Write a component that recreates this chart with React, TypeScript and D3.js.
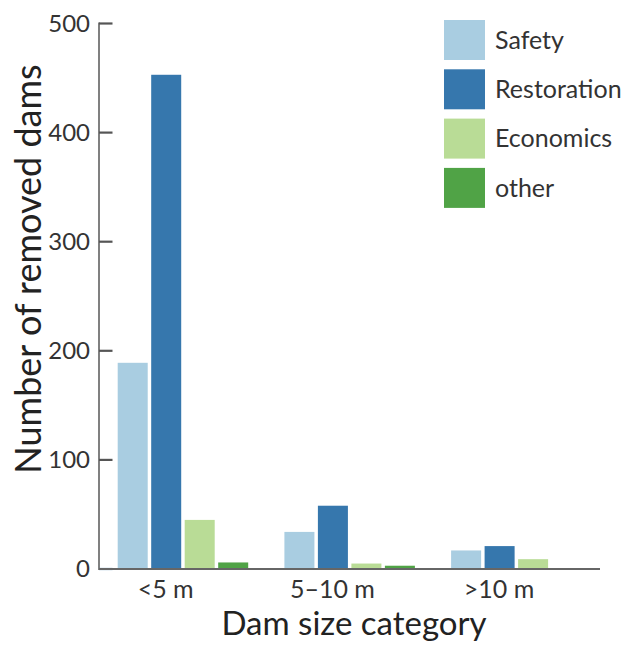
import React from "react";
import * as d3 from "d3";

const categories = ["<5 m", "5–10 m", ">10 m"];
const seriesNames = ["Safety", "Restoration", "Economics", "other"];
const safety = [189, 34, 17];
const restoration = [453, 58, 21];
const economics = [45, 5, 9];
const other = [6, 3, 0];
const yTicks = [0, 100, 200, 300, 400, 500];
const colors = ["#a9cde1", "#3677ad", "#b9dc96", "#50a346"];

const seriesValues = [safety, restoration, economics, other];

export default function App() {
  const W = 626, H = 645;
  const y = d3.scaleLinear().domain([0, 500]).range([569, 23.5]);
  const x = d3.scaleBand<string>().domain(categories).range([117.7, 117.7 + 3 * 166.7]).padding(0);
  const xs = d3.scaleBand<string>().domain(seriesNames).range([0, 130.5]).paddingInner(0.104).paddingOuter(0);
  const font = "Lato, 'Open Sans', sans-serif";
  const textColor = "#333";

  return (
    <svg width={W} height={H} style={{ position: "absolute", left: 0, top: 0, background: "#fff" }}>
      {/* bars */}
      {categories.map((c, ci) => (
        <g key={c}>
          {seriesNames.map((s, si) => {
            const v = seriesValues[si][ci];
            if (v <= 0) return null;
            const bx = (x(c) as number) + (xs(s) as number);
            return (
              <rect key={s} x={bx} y={y(v)} width={xs.bandwidth()} height={y(0) - y(v)} fill={colors[si]} />
            );
          })}
        </g>
      ))}
      {/* y axis */}
      <line x1={99} x2={99} y1={y(500) - 1} y2={y(0) + 1} stroke="#808080" strokeWidth={2} />
      {yTicks.map((t) => (
        <g key={t}>
          <line x1={99} x2={112.5} y1={y(t)} y2={y(t)} stroke={t === 0 ? "#3677ad" : "#555"} strokeWidth={2.2} />
          <text x={90} y={y(t)} dy="0.35em" textAnchor="end" fontFamily={font} fontSize={24} fill={textColor}>
            {t}
          </text>
        </g>
      ))}
      {/* x axis */}
      <line x1={99} x2={600} y1={y(0)} y2={y(0)} stroke="#666" strokeWidth={2} />
      {categories.map((c) => (
        <text key={c} x={(x(c) as number) + 48} y={597.5} textAnchor="middle" fontFamily={font} fontSize={25} fill={textColor}>
          {c}
        </text>
      ))}
      {/* axis titles */}
      <text x={354} y={635} textAnchor="middle" fontFamily={font} fontSize={33} fill="#222">
        Dam size category
      </text>
      <text
        transform={`translate(41, ${269}) rotate(-90)`}
        textAnchor="middle"
        fontFamily={font}
        fontSize={36}
        fill="#222"
      >
        Number of removed dams
      </text>
      {/* legend */}
      {seriesNames.map((s, i) => (
        <g key={s} transform={`translate(444, ${20 + i * 49.3})`}>
          <rect x={0} y={0} width={41} height={40} fill={colors[i]} />
          <text x={51} y={20} dy="0.35em" fontFamily={font} fontSize={25} fill={textColor}>
            {s}
          </text>
        </g>
      ))}
    </svg>
  );
}
